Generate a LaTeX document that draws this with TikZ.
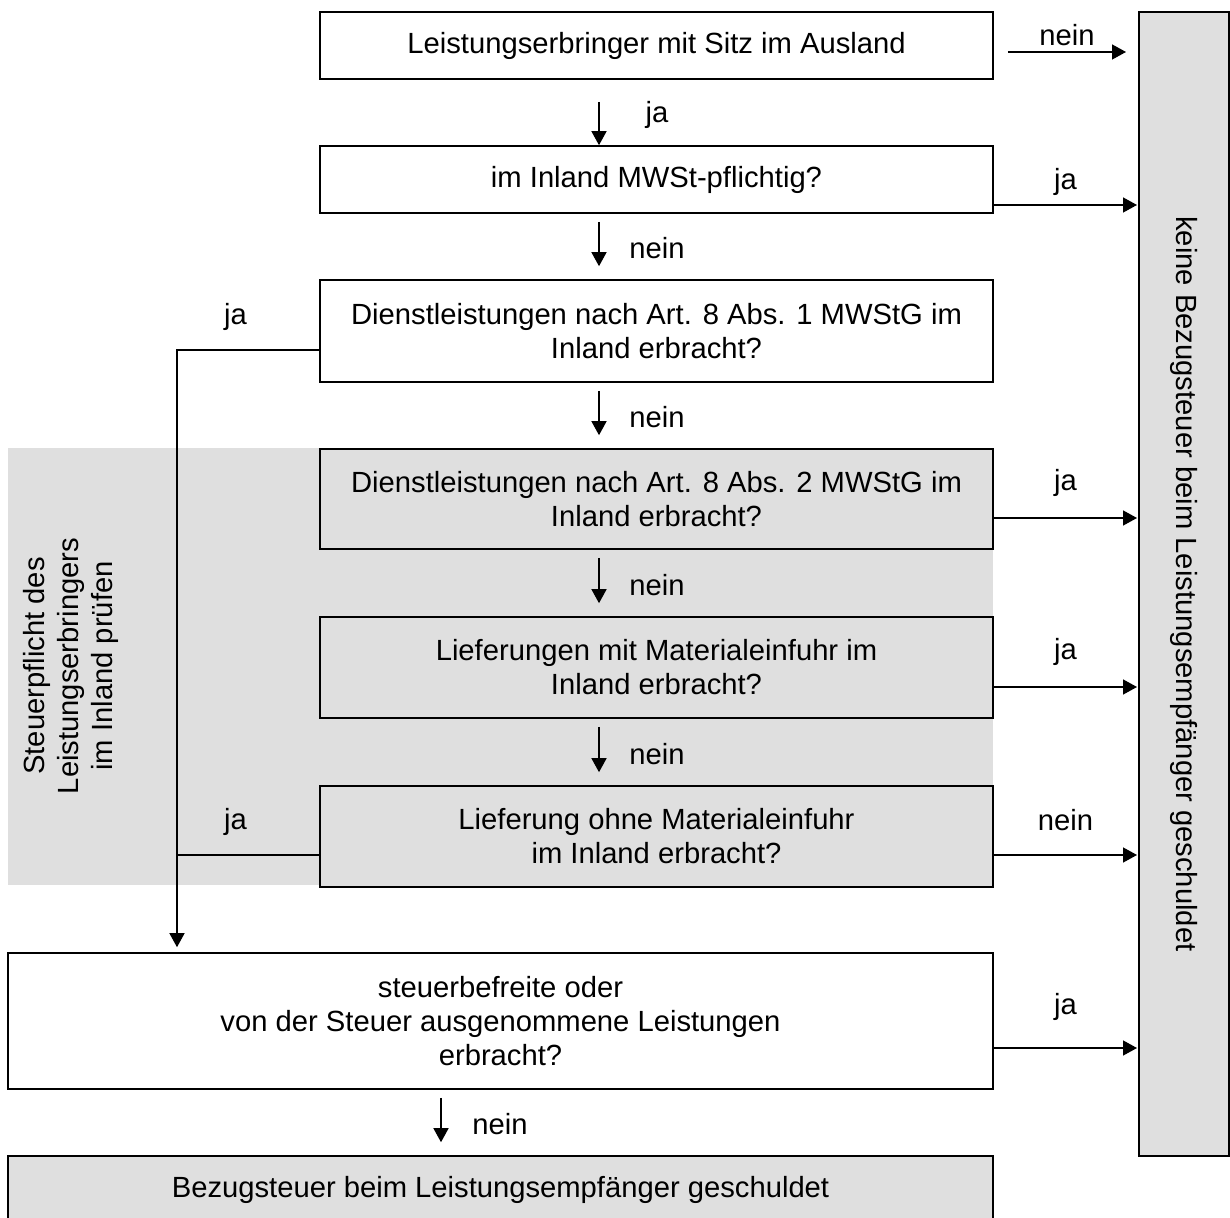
\documentclass[tikz,border=0pt]{standalone}
\usepackage{fontspec}
\setmainfont{Liberation Sans}
\usetikzlibrary{arrows.meta}

\definecolor{boxgray}{RGB}{223,223,223}

\tikzset{
  box/.style={draw, line width=0.8pt, fill=white, align=center, inner sep=0pt, minimum width=336.5pt},
  graybox/.style={box, fill=boxgray},
  arr/.style={-{Triangle[length=7pt,width=7.5pt]}, line width=0.7pt},
  down/.style={arr, shorten <=4pt, shorten >=6.5pt},
  lbl/.style={inner sep=0pt},
}

\begin{document}
\begin{tikzpicture}[x=0.5pt, y=-0.5pt, font=\fontsize{14.6pt}{17pt}\selectfont]
\useasboundingbox (0,0) rectangle (1230,1218);

% Hintergrund
\fill[boxgray] (8,448) rectangle (993,885);
\node[rotate=90, align=center, inner sep=0pt] (pruefen) at (71,666) {Steuerpflicht des\\Leistungserbringers\\im Inland prüfen};

% Kästen
\node[box, minimum height=33.5pt] (sitz) at (656.5,45.5) {Leistungserbringer mit Sitz im Ausland};
\node[box, minimum height=33.5pt] (mwst) at (656.5,179.5) {im Inland MWSt-pflichtig?};
\node[box, minimum height=51pt] (abs1) at (656.5,331) {Dienstleistungen nach Art. 8 Abs. 1 MWStG im\\Inland erbracht?};
\node[graybox, minimum height=50pt] (abs2) at (656.5,499) {Dienstleistungen nach Art. 8 Abs. 2 MWStG im\\Inland erbracht?};
\node[graybox, minimum height=50.5pt] (mitmat) at (656.5,667.5) {Lieferungen mit Materialeinfuhr im\\Inland erbracht?};
\node[graybox, minimum height=50.5pt] (ohnemat) at (656.5,836.5) {Lieferung ohne Materialeinfuhr\\im Inland erbracht?};
\node[box, minimum width=492.5pt, minimum height=68pt] (befreit) at (500.5,1021) {steuerbefreite oder\\von der Steuer ausgenommene Leistungen\\erbracht?};
\node[graybox, minimum width=492.5pt, minimum height=34pt] (bezug) at (500.5,1190) {Bezugsteuer beim Leistungsempfänger geschuldet};
\node[graybox, rotate=-90, minimum width=572pt, minimum height=45pt] (keine) at (1184,584) {keine Bezugsteuer beim Leistungsempfänger geschuldet};

\coordinate (mitte) at (599,0);
\coordinate (rand) at (1137,0);
\coordinate (links) at (177,0);

% Pfeile nach unten
\draw[arr, shorten <=11pt] (sitz.south -| mitte) -- node[lbl, xshift=29pt, yshift=-1pt] {ja} (mwst.north -| mitte);
\draw[down] (mwst.south -| mitte) -- node[lbl, xshift=29pt, yshift=-1pt] {nein} (abs1.north -| mitte);
\draw[down] (abs1.south -| mitte) -- node[lbl, xshift=29pt, yshift=-1pt] {nein} (abs2.north -| mitte);
\draw[down] (abs2.south -| mitte) -- node[lbl, xshift=29pt, yshift=-1pt] {nein} (mitmat.north -| mitte);
\draw[down] (mitmat.south -| mitte) -- node[lbl, xshift=29pt, yshift=-1pt] {nein} (ohnemat.north -| mitte);
\draw[down] ([xshift=-29.75pt]befreit.south) -- node[lbl, xshift=29.5pt, yshift=-1pt] {nein} ([xshift=-29.75pt]bezug.north);

% Pfeile nach rechts
\draw[arr] ([xshift=7pt,yshift=-3.25pt]sitz.east) -- node[lbl, yshift=8.5pt] {nein} ([xshift=-5.5pt,yshift=-3.25pt]sitz.east -| rand);
\draw[arr] ([yshift=-12.75pt]mwst.east) -- node[lbl, yshift=11.5pt] {ja} ([yshift=-12.75pt]mwst.east -| rand);
\draw[arr] ([yshift=-9.5pt]abs2.east) -- node[lbl, yshift=17.5pt] {ja} ([yshift=-9.5pt]abs2.east -| rand);
\draw[arr] ([yshift=-9.75pt]mitmat.east) -- node[lbl, yshift=17.5pt] {ja} ([yshift=-9.75pt]mitmat.east -| rand);
\draw[arr] ([yshift=-9.25pt]ohnemat.east) -- node[lbl, yshift=17.5pt] {nein} ([yshift=-9.25pt]ohnemat.east -| rand);
\draw[arr] ([yshift=-13.5pt]befreit.east) -- node[lbl, yshift=20.5pt] {ja} ([yshift=-13.5pt]befreit.east -| rand);

% Rückführung links
\draw[arr] ([yshift=-9.5pt]abs1.west) -| node[lbl, pos=0.25, xshift=-6.25pt, yshift=16.5pt] {ja} ([yshift=2.5pt]befreit.north -| links);
\draw[line width=0.7pt] ([yshift=-9.25pt]ohnemat.west) -- node[lbl, xshift=-6.25pt, yshift=16.5pt] {ja} ([yshift=-9.25pt]ohnemat.west -| links);

\end{tikzpicture}
\end{document}
